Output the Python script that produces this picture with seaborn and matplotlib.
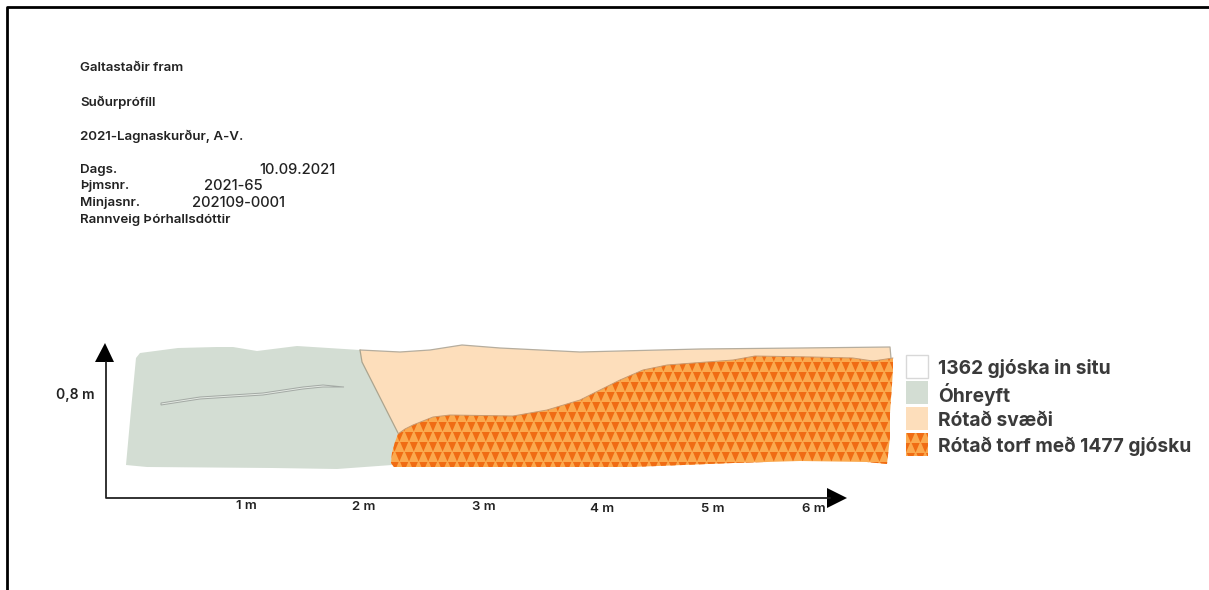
import numpy as np
import seaborn as sns
import matplotlib.pyplot as plt
from matplotlib.collections import PolyCollection
from matplotlib.patches import Polygon, Rectangle

green_x = [136, 140, 178, 217, 233, 257, 297, 360, 362, 398, 392, 337, 273, 147, 126, 131]
green_y = [358, 353, 348, 347, 347, 351, 346, 350, 362, 433, 465, 469, 468, 467, 465, 410]

surface_x = [360, 400, 430, 462, 500, 580, 700, 800, 890, 891]
surface_y = [350, 352, 350, 345, 348, 352, 349, 348, 347, 358]
fault_x = [362]
fault_y = [362]

turf_top_x = [398, 405, 413, 433, 450, 513, 547, 580, 600, 620, 643, 667, 733, 755, 813, 853, 873, 893]
turf_top_y = [434, 429, 425, 417, 415, 416, 410, 400, 390, 380, 370, 365, 360, 356, 357, 358, 361, 358]

turf_low_x = [893, 890, 890, 887, 867, 800, 733, 633, 500, 394, 391, 392, 395]
turf_low_y = [370, 413, 437, 464, 462, 461, 463, 467, 467, 467, 463, 453, 442]

stone_x = [161, 200, 263, 303, 323, 344, 323, 303, 263, 200, 161]
stone_y = [403, 397, 393, 387, 385, 387, 387, 389, 395, 399, 405]

tick_labels = ['1 m', '2 m', '3 m', '4 m', '5 m', '6 m']
tick_x = [246, 364, 484, 602, 713, 814]
tick_y = [506, 507, 507, 509, 509, 509]

legend_labels = ['1362 gjóska in situ', 'Óhreyft', 'Rótað svæði', 'Rótað torf með 1477 gjósku']
legend_colors = ['#ffffff', '#d3ddd3', '#fddebb', '#f9a64c']

header = [('Galtastaðir fram', 80, 67), ('Suðurprófíll', 80, 101), ('2021-Lagnaskurður, A-V.', 80, 135),
          ('Dags.', 80, 169), ('Þjmsnr.', 80, 185), ('Minjasnr.', 80, 202), ('Rannveig Þórhallsdóttir', 80, 219)]
header_values = [('10.09.2021', 259, 169), ('2021-65', 204, 185), ('202109-0001', 192, 202)]

sns.set_theme(style='white')
plt.rcParams['font.family'] = ['Inter', 'DejaVu Sans']

fig = plt.figure(figsize=(12.09, 5.90), dpi=100)
ax = fig.add_axes([0, 0, 1, 1])
ax.set_xlim(0, 1209)
ax.set_ylim(590, 0)
ax.axis('off')

# page frame, only top and left show
ax.plot([7, 7, 1209], [590, 7, 7], color='black', lw=2)


def triangles(x0, x1, y0, y1, dx=9.6, dy=10.0):
    # dark down pointing triangles of the turf fill
    tris = []
    for r, y in enumerate(np.arange(y0, y1, dy)):
        for x in np.arange(x0 - (r % 2) * dx / 2, x1, dx):
            tris.append([(x + dx * 0.08, y), (x + dx * 0.92, y), (x + dx / 2, y + dy * 0.95)])
    return tris


def turf_fill(xy, x0, x1, y0, y1):
    patch = Polygon(xy, closed=True, facecolor='#fba94e', edgecolor='none')
    ax.add_patch(patch)
    coll = PolyCollection(triangles(x0, x1, y0, y1), facecolors='#f06c14', edgecolors='none')
    ax.add_collection(coll)
    coll.set_clip_path(patch)


ax.fill(green_x, green_y, color='#d3ddd3', lw=0)
ax.fill(stone_x, stone_y, facecolor='#e3e8e2', edgecolor='#a3a9a4', lw=0.7)

peach_x = surface_x + turf_top_x[::-1] + fault_x
peach_y = surface_y + turf_top_y[::-1] + fault_y
ax.fill(peach_x, peach_y, facecolor='#fddebb', edgecolor='none')

turf_x = turf_top_x + turf_low_x
turf_y = turf_top_y + turf_low_y
turf_fill(np.column_stack([turf_x, turf_y]), 385, 900, 352, 472)

# boundary lines
sns.lineplot(x=surface_x, y=surface_y, sort=False, estimator=None, color='#b5ad9e', lw=0.9, ax=ax)
sns.lineplot(x=turf_top_x, y=turf_top_y, sort=False, estimator=None, color='#c79a70', lw=0.7, ax=ax)
ax.plot([360, 362, 398], [350, 362, 433], color='#aaa48f', lw=0.9)

# axes arrows
ax.plot([106, 106, 830], [362, 498, 498], color='#222222', lw=1.3)
ax.fill([105, 95, 114], [343, 362, 362], color='black', lw=0)
ax.fill([827, 847, 827], [488, 498, 508], color='black', lw=0)

for lab, x, y in zip(tick_labels, tick_x, tick_y):
    ax.text(x, y, lab, ha='center', va='center', fontsize=9.5, fontweight='semibold', color='#222222')
ax.text(75, 395, '0,8 m', ha='center', va='center', fontsize=10, fontweight='semibold', color='#222222')

for lab, x, y in header:
    ax.text(x, y + 1, lab, ha='left', va='center', fontsize=9.6, fontweight='semibold', color='#222222')
for lab, x, y in header_values:
    ax.text(x, y + 1, lab, ha='left', va='center', fontsize=10.6, fontweight='medium', color='#222222')

# legend
box_y = [355, 381, 407, 433]
for lab, col, y in zip(legend_labels, legend_colors, box_y):
    ax.add_patch(Rectangle((906, y), 22, 23, facecolor=col,
                           edgecolor='#d8d8d8' if col == '#ffffff' else 'none', lw=1))
    ax.text(938, y + 13.5, lab, ha='left', va='center', fontsize=13.8, fontweight='bold', color='#3a3a3a')
box = [(906, 433), (928, 433), (928, 456), (906, 456)]
turf_fill(box, 906, 930, 433, 456)

fig.savefig('out.png', dpi=100)
